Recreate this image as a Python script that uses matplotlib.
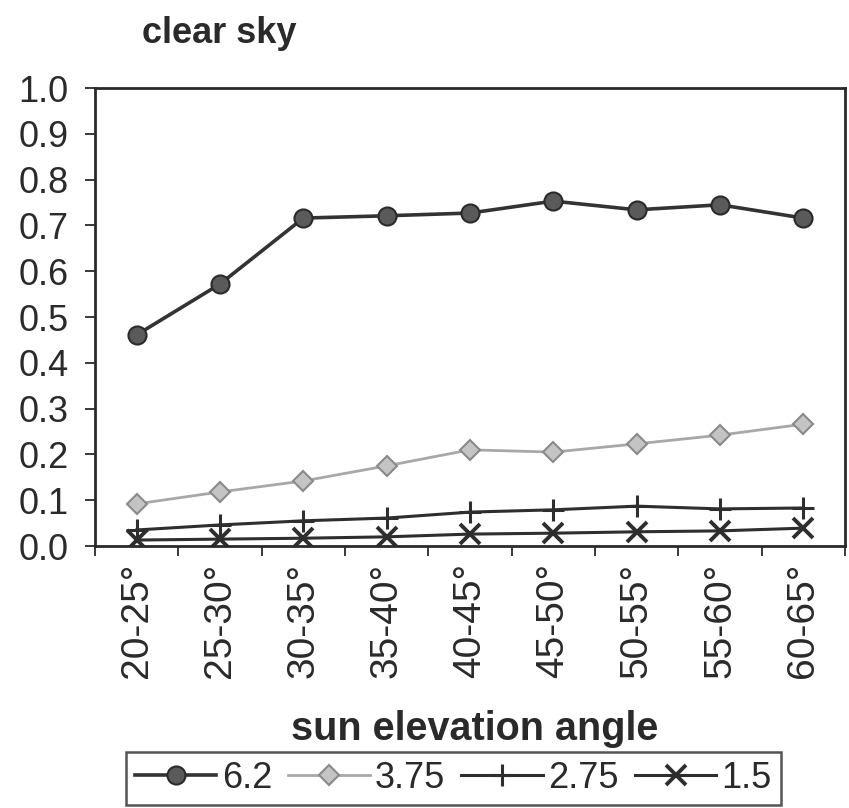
import numpy as np
import matplotlib
matplotlib.use('Agg')
import matplotlib.pyplot as plt
from matplotlib.ticker import FixedLocator, NullFormatter

plt.rcParams['font.family'] = ['Liberation Sans', 'DejaVu Sans']

# data
angles = ['20-25°', '25-30°', '30-35°', '35-40°', '40-45°',
          '45-50°', '50-55°', '55-60°', '60-65°']
s62 = [0.461, 0.572, 0.716, 0.721, 0.727, 0.753, 0.734, 0.745, 0.716]
s375 = [0.092, 0.118, 0.142, 0.175, 0.210, 0.205, 0.223, 0.242, 0.266]
s275 = [0.035, 0.046, 0.055, 0.061, 0.074, 0.079, 0.087, 0.081, 0.083]
s15 = [0.013, 0.015, 0.017, 0.020, 0.026, 0.028, 0.031, 0.033, 0.039]
yticks = [0.0, 0.1, 0.2, 0.3, 0.4, 0.5, 0.6, 0.7, 0.8, 0.9, 1.0]

ink = '#2a2a2a'
x = np.arange(len(angles))

fig = plt.figure(figsize=(8.49, 8.08), dpi=100)
ax = fig.add_axes([95/849, 1-546/808, 750/849, 458/808])

ax.plot(x, s62, '-o', color='#333333', lw=2.6, ms=13, mfc='#5a5a5a', mec='#2a2a2a', mew=1.5, label='6.2')
ax.plot(x, s375, '-D', color='#a8a8a8', lw=2.0, ms=10, mfc='#c4c4c4', mec='#8a8a8a', mew=1.5, label='3.75')
ax.plot(x, s275, '-+', color='#2e2e2e', lw=2.2, ms=16, mew=2.2, label='2.75')
ax.plot(x, s15, '-x', color='#2e2e2e', lw=2.2, ms=14, mew=2.8, label='1.5')

ax.set_xlim(-0.5, len(angles) - 0.5)
ax.set_ylim(0, 1.0)
ax.set_yticks(yticks)
ax.set_yticklabels(['%.1f' % v for v in yticks])

# ticks between categories, labels at centres
ax.xaxis.set_major_locator(FixedLocator(np.arange(-0.5, len(angles), 1.0)))
ax.xaxis.set_major_formatter(NullFormatter())
ax.xaxis.set_minor_locator(FixedLocator(x))
ax.set_xticklabels(angles, minor=True, rotation=90, fontsize=28, color=ink)
ax.tick_params(axis='x', which='major', direction='out', length=7, width=1.3, color=ink)
ax.tick_params(axis='x', which='minor', length=0, pad=12)
ax.tick_params(axis='y', direction='out', length=7, width=1.3, color=ink,
               labelsize=26, labelcolor=ink, pad=12)

for sp in ax.spines.values():
    sp.set_linewidth(2.0)
    sp.set_color(ink)

fig.text(475/849, 1-740/808, 'sun elevation angle', ha='center', va='baseline',
         fontsize=28.5, fontweight='bold', color=ink)
fig.text(142/849, 1-43/808, 'clear sky', ha='left', va='baseline',
         fontsize=26, fontweight='bold', color=ink)

leg = fig.legend(loc='upper left', bbox_to_anchor=(126/849, 1-752/808), ncol=4,
                 fontsize=26, handlelength=2.25, handletextpad=0.15, columnspacing=0.45,
                 borderpad=0.25, borderaxespad=0, fancybox=False, frameon=True)
leg.get_frame().set_edgecolor(ink)
leg.get_frame().set_linewidth(1.8)
for t in leg.get_texts():
    t.set_color(ink)

fig.savefig('out.png', dpi=100, facecolor='white')
